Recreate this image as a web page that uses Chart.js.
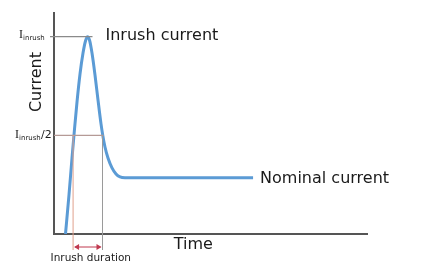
<!DOCTYPE html>
<html>
<head>
<meta charset="utf-8">
<script src="https://cdn.jsdelivr.net/npm/chart.js@4/dist/chart.umd.min.js"></script>
<style>
html,body{margin:0;padding:0;background:#fff;}
#wrap{width:423px;height:278px;}
</style>
</head>
<body>
<div id="wrap"><canvas id="c" width="423" height="278"></canvas></div>
<script>
// Time (arbitrary units) and current (relative to inrush peak)
const timeValues    = [3.67, 4.79, 5.75, 6.39, 7.35, 8.31, 9.27, 10.06, 10.7, 11.34, 12.14, 13.1, 14.06, 15.02, 15.56, 16.29, 17.25, 18.53, 19.81, 21.09, 22.68, 63.6];
const currentValues = [0, 0.198, 0.385, 0.502, 0.669, 0.811, 0.917, 0.978, 1.0, 0.983, 0.917, 0.806, 0.679, 0.558, 0.502, 0.441, 0.385, 0.335, 0.304, 0.289, 0.285, 0.285];
const inrushPeak = 1.0;
const inrushHalf = 0.5;
const nominalCurrent = 0.285;
const durationStart = 6.1;
const durationEnd = 15.5;
const peakTime = 10.7;
const xRange = [0, 100];
const yRange = [0, 1.12];

const points = timeValues.map((t, i) => ({x: t, y: currentValues[i]}));

const annot = {
  id: 'annot',
  afterDatasetsDraw(chart) {
    const ctx = chart.ctx;
    const xs = chart.scales.x, ys = chart.scales.y;
    const ca = chart.chartArea;
    const yPeak = ys.getPixelForValue(inrushPeak);
    const yHalf = ys.getPixelForValue(inrushHalf);
    const xPeak = xs.getPixelForValue(peakTime);
    const xS = xs.getPixelForValue(durationStart);
    const xE = xs.getPixelForValue(durationEnd);
    ctx.save();
    // peak reference line
    ctx.lineWidth = 1.2;
    ctx.strokeStyle = '#8a8a8a';
    ctx.beginPath(); ctx.moveTo(ca.left - 4, yPeak); ctx.lineTo(xPeak + 5, yPeak); ctx.stroke();
    // half reference line
    ctx.strokeStyle = '#b59a96';
    ctx.beginPath(); ctx.moveTo(ca.left, yHalf); ctx.lineTo(xE + 1, yHalf); ctx.stroke();
    // duration verticals
    ctx.lineWidth = 1;
    ctx.strokeStyle = '#e0a08c';
    ctx.beginPath(); ctx.moveTo(xS, yHalf); ctx.lineTo(xS, ca.bottom + 16); ctx.stroke();
    ctx.strokeStyle = '#9a9a9a';
    ctx.beginPath(); ctx.moveTo(xE, yHalf); ctx.lineTo(xE, ca.bottom + 16); ctx.stroke();
    // arrow
    const ay = ca.bottom + 13;
    ctx.strokeStyle = '#c0394f'; ctx.fillStyle = '#c0394f';
    ctx.lineWidth = 1;
    ctx.beginPath(); ctx.moveTo(xS + 2, ay); ctx.lineTo(xE - 2, ay); ctx.stroke();
    ctx.beginPath(); ctx.moveTo(xS + 1, ay); ctx.lineTo(xS + 6, ay - 3); ctx.lineTo(xS + 6, ay + 3); ctx.closePath(); ctx.fill();
    ctx.beginPath(); ctx.moveTo(xE - 1, ay); ctx.lineTo(xE - 6, ay - 3); ctx.lineTo(xE - 6, ay + 3); ctx.closePath(); ctx.fill();

    // texts
    ctx.fillStyle = '#1a1a1a';
    ctx.textBaseline = 'middle';
    ctx.textAlign = 'left';
    ctx.font = '16px "DejaVu Sans", Verdana, sans-serif';
    ctx.fillText('Inrush current', xPeak + 18, yPeak - 1);
    const lastX = xs.getPixelForValue(timeValues[timeValues.length - 1]);
    ctx.fillText('Nominal current', lastX + 7, ys.getPixelForValue(nominalCurrent) + 1);
    ctx.textAlign = 'center';
    ctx.fillText('Time', xs.getPixelForValue(44.5), ca.bottom + 11);
    ctx.save();
    ctx.translate(37, ys.getPixelForValue(0.77));
    ctx.rotate(-Math.PI / 2);
    ctx.fillText('Current', 0, 0);
    ctx.restore();
    ctx.font = '10.5px "DejaVu Sans", Verdana, sans-serif';
    ctx.fillText('Inrush duration', (xS + xE) / 2 + 3, ca.bottom + 24);

    // I_inrush labels
    ctx.textAlign = 'left';
    ctx.textBaseline = 'alphabetic';
    const drawI = (x, y, suffix) => {
      ctx.font = '12px "Liberation Serif", "Times New Roman", serif';
      ctx.fillStyle = '#1a1a1a';
      ctx.fillText('I', x, y);
      ctx.font = '7px "DejaVu Sans", sans-serif';
      ctx.fillText('inrush', x + 4, y + 2);
      if (suffix) {
        ctx.font = '11px "DejaVu Sans", sans-serif';
        ctx.fillText(suffix, x + 26, y);
      }
    };
    drawI(19, yPeak + 1, '');
    drawI(15, yHalf + 3, '/2');
    ctx.restore();
  }
};

new Chart(document.getElementById('c'), {
  type: 'line',
  data: {
    datasets: [{
      data: points,
      borderColor: '#5b9bd5',
      borderWidth: 3,
      pointRadius: 0,
      cubicInterpolationMode: 'monotone',
      fill: false
    }]
  },
  options: {
    responsive: false,
    animation: false,
    devicePixelRatio: 1,
    layout: { padding: { left: 54, right: 56, top: 13, bottom: 44 } },
    plugins: { legend: { display: false }, tooltip: { enabled: false } },
    scales: {
      x: {
        type: 'linear', min: xRange[0], max: xRange[1],
        grid: { display: false, drawTicks: false },
        ticks: { display: false },
        border: { display: true, color: '#555', width: 2 }
      },
      y: {
        type: 'linear', min: yRange[0], max: yRange[1],
        grid: { display: false, drawTicks: false },
        ticks: { display: false },
        border: { display: true, color: '#555', width: 2 }
      }
    }
  },
  plugins: [annot]
});
</script>
</body>
</html>
